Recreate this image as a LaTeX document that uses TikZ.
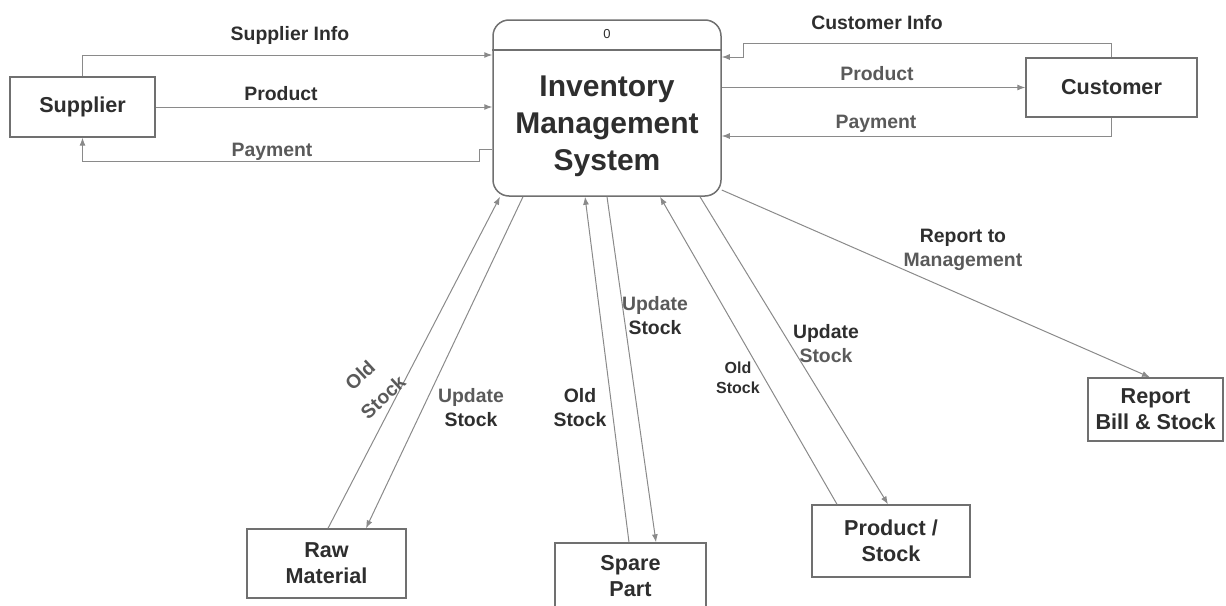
\documentclass[tikz,border=0pt]{standalone}
\usepackage{fontspec}
\setmainfont{Liberation Sans}
\usetikzlibrary{arrows.meta}
\definecolor{txt}{HTML}{2E2E2E}
\definecolor{txtg}{HTML}{5A5A5A}
\definecolor{ln}{HTML}{8A8A8A}
\definecolor{bd}{HTML}{707070}
\begin{document}
\begin{tikzpicture}[x=0.5pt,y=-0.5pt,
  box/.style={draw=bd,line width=0.7pt,fill=white,font=\bfseries\fontsize{10.8}{13}\selectfont,text=txt,align=center,inner sep=0pt},
  flow/.style={draw=ln,line width=0.5pt,-{Latex[length=4pt,width=3pt]}},
  lbl/.style={font=\bfseries\fontsize{9.7}{12}\selectfont,text=txt,align=center,inner sep=1pt},
  lblg/.style={lbl,text=txtg},
  ]
\useasboundingbox (0,0) rectangle (1226,605);

% boxes
\node[box,minimum width=72.5pt,minimum height=30pt] (supplier) at (82.5,107) {Supplier};
\node[draw=bd,line width=0.75pt,rounded corners=8pt,minimum width=114pt,minimum height=88pt,inner sep=0pt] (main) at (607,108) {};
\node[font=\fontsize{6.5}{8}\selectfont,text=txt,inner sep=0pt] (num) at (607,34) {0};
\draw[draw=bd,line width=0.75pt] (main.west |- 0,50) coordinate (hl) -- (main.east |- 0,50) coordinate (hr);
\node[font=\bfseries\fontsize{15}{18.5}\selectfont,text=txt,align=center,inner sep=0pt] (title) at (607,126) {Inventory\\Management\\System};
\node[box,minimum width=85.5pt,minimum height=29.5pt] (customer) at (1111.5,87.5) {Customer};
\node[box,minimum width=79.5pt,minimum height=34.5pt] (raw) at (326.5,563.5) {Raw\\Material};
\node[box,minimum width=75.5pt,minimum height=36pt] (spare) at (630.5,579) {};
\node[font=\bfseries\fontsize{10.8}{13}\selectfont,text=txt,align=center,inner sep=0pt] (sparetxt) at (630.5,576) {Spare\\Part};
\node[box,minimum width=79pt,minimum height=36pt] (prod) at (891,541) {Product /\\Stock};
\node[box,minimum width=67.5pt,minimum height=31.5pt] (report) at (1155.5,409.5) {Report\\Bill \& Stock};

% supplier flows
\draw[flow] (supplier.north) |- (main.west |- 0,55);
\draw[flow] (supplier.east) -- (main.west |- supplier.east);
\draw[flow] (main.west |- 0,149) -- ++(-13,0) |- (supplier.south |- 0,161) -- (supplier.south);
\node[lbl] (l1) at (290,35) {Supplier Info};
\node[lbl] (l2) at (281,94) {Product};
\node[lblg] (l3) at (272,152) {Payment};

% customer flows
\draw[flow] (customer.north) -- (customer.north |- 0,43) -| (743,57) -- (main.east |- 0,57);
\draw[flow] (main.east |- customer.west) -- (customer.west);
\draw[flow] (customer.south) |- (main.east |- 0,136);
\node[lbl] (l4) at (877,23) {Customer Info};
\node[lblg] (l5) at (877,74) {Product};
\node[lblg] (l6) at (876,124) {Payment};

% bottom flows
\draw[flow] (raw.north -| 328,0) -- (main.south -| 500,0);
\draw[flow] (main.south -| 523,0) -- (raw.north -| 366,0);
\draw[flow] (spare.north -| 629,0) -- (main.south -| 585,0);
\draw[flow] (main.south) -- (spare.north -| 656,0);
\draw[flow] (prod.north -| 837,0) -- (main.south -| 660,0);
\draw[flow] (main.south -| 700,0) -- (prod.north -| 888,0);
\draw[flow] (main.east |- 0,190) -- (report.north -| 1150,0);

\node[lblg,rotate=43,inner sep=0pt] (l7a) at (360,375) {Old};
\node[lblg,rotate=43,inner sep=0pt] (l7b) at (383,397) {Stock};
\node[lbl] (l8) at (471,408) {\textcolor{txtg}{Update}\\Stock};
\node[lbl] (l9) at (580,408) {Old\\Stock};
\node[lbl] (l10) at (655,316) {\textcolor{txtg}{Update}\\Stock};
\node[lbl,font=\bfseries\fontsize{8}{10}\selectfont] (l11) at (738,378) {Old\\Stock};
\node[lbl] (l12) at (826,344) {Update\\\textcolor{txtg}{Stock}};
\node[lbl] (l13) at (963,250) {Report to\\\textcolor{txtg}{Management}};
\end{tikzpicture}
\end{document}
